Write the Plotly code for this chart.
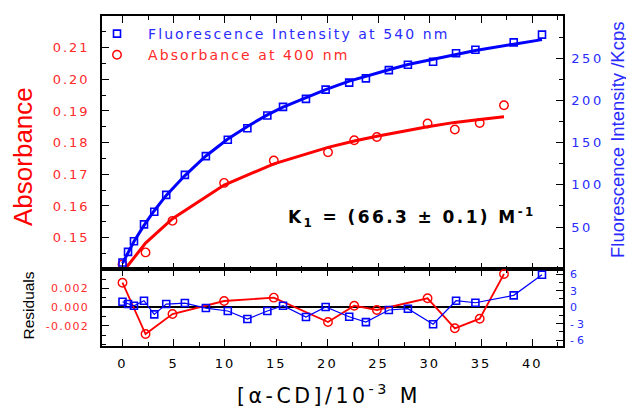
import plotly.graph_objects as go

# ---------------- data ----------------
conc_fl = [0, 0.54, 1.12, 2.1, 3.1, 4.27, 6.09, 8.14, 10.28, 12.19, 14.14, 15.67,
           17.91, 19.83, 22.13, 23.76, 26.0, 27.86, 30.32, 32.56, 34.45, 38.19, 40.95]
fluor = [8.1, 20.6, 33.2, 53.2, 68.1, 88.1, 111.8, 134.0, 153.5, 167.0, 182.2, 192.4,
         201.8, 212.8, 221.1, 226.1, 235.9, 242.2, 245.8, 255.9, 260.0, 268.8, 277.9]
fluor_fit = [7.1, 20.0, 32.9, 52.0, 69.4, 87.5, 111.0, 134.2, 154.2, 169.2, 182.9, 192.1,
             203.6, 212.8, 222.8, 228.8, 236.4, 242.5, 248.9, 254.7, 259.2, 266.6, 272.0]
fluor_res = [1.0, 0.58, 0.27, 1.18, -1.3, 0.58, 0.76, -0.15, -0.69, -2.15, -0.69, 0.27,
             -1.78, 0.04, -1.73, -2.7, -0.5, -0.27, -3.1, 1.18, 0.82, 2.16, 5.9]

conc_abs = [0, 2.25, 4.88, 9.92, 14.77, 20.06, 22.62, 24.83, 29.78, 32.44, 34.87, 37.24]
absorb = [0.14155, 0.14533, 0.1553, 0.16729, 0.17435, 0.17697, 0.18076, 0.1818,
          0.18603, 0.18413, 0.18621, 0.1918]
absorb_fit = [0.1390, 0.1483, 0.1560, 0.1666, 0.1733, 0.1785, 0.1805, 0.1820,
              0.1850, 0.1864, 0.1873, 0.1882]
absorb_res = [0.00262, -0.00287, -0.00073, 0.00066, 0.00102, -0.00158, 0.00016,
              -0.0003, 0.00095, -0.00226, -0.00123, 0.00355]

x_ticks = [0, 5, 10, 15, 20, 25, 30, 35, 40]
abs_ticks = [0.15, 0.16, 0.17, 0.18, 0.19, 0.20, 0.21]
abs_ticklabels = ["0.15", "0.16", "0.17", "0.18", "0.19", "0.20", "0.21"]
fl_ticks = [50, 100, 150, 200, 250]
res_abs_ticks = [-0.002, 0.0, 0.002]
res_abs_ticklabels = ["-0.002", "0.000", "0.002"]
res_fl_ticks = [-6, -3, 0, 3, 6]
res_fl_ticklabels = ["-6", "-3", "0", "3", "6"]

BLUE = "#0000ff"
RED = "#ff0000"
BLUE_T = "#2a2aff"
RED_T = "#ff2a2a"
FONT = "DejaVu Sans"
TITLE_FONT = "Liberation Sans"

# the page body adds an 8 px offset; the figure is sized so the plot lands
# where it sits in the 634x410 reference
OFF = 8
W, H = 634 - OFF, 410 - OFF
L, R, T, B = 102 - OFF, 71, 16 - OFF, 64
PW, PH = W - L - R, H - T - B


def px_x(px):
    return (px - OFF - L) / PW


def px_y(py):
    return (H - B - (py - OFF)) / PH


def ls(s, sp, color=None):
    st = f"letter-spacing:{sp}px"
    if color:
        st = f"color:{color};" + st
    return f'<span style="{st}">{s}</span>'


fig = go.Figure()

# ---- main panel ----
fig.add_trace(go.Scatter(x=conc_fl, y=fluor_fit, mode="lines", yaxis="y2", xaxis="x",
                         line=dict(color=BLUE, width=3), showlegend=False))
fig.add_trace(go.Scatter(x=conc_abs, y=absorb_fit, mode="lines", yaxis="y", xaxis="x",
                         line=dict(color=RED, width=3), showlegend=False))
fig.add_trace(go.Scatter(x=conc_fl, y=fluor, mode="markers", yaxis="y2", xaxis="x",
                         marker=dict(symbol="square-open", size=7, color=BLUE,
                                     line=dict(width=1.6, color=BLUE)),
                         name=ls("Fluorescence Intensity at 540 nm", 2.1, BLUE_T),
                         legendgroup="a", legendrank=1))
fig.add_trace(go.Scatter(x=conc_abs, y=absorb, mode="markers", yaxis="y", xaxis="x",
                         marker=dict(symbol="circle-open", size=8.5, color=RED,
                                     line=dict(width=1.4, color=RED)),
                         name=ls("Absorbance at 400 nm", 2.1, RED_T),
                         legendgroup="b", legendrank=2))

# ---- residual panel ----
fig.add_trace(go.Scatter(x=conc_abs, y=absorb_res, mode="lines+markers", xaxis="x2", yaxis="y3",
                         line=dict(color=RED, width=1.8),
                         marker=dict(symbol="circle-open", size=8.5, color=RED,
                                     line=dict(width=1.4, color=RED)),
                         showlegend=False))
fig.add_trace(go.Scatter(x=conc_fl, y=fluor_res, mode="lines+markers", xaxis="x2", yaxis="y4",
                         line=dict(color=BLUE, width=1.2),
                         marker=dict(symbol="square-open", size=7, color=BLUE,
                                     line=dict(width=1.6, color=BLUE)),
                         showlegend=False))

split = 76.7 / PH
axis_common = dict(showline=True, linecolor="black", linewidth=1.5, showgrid=False,
                   zeroline=False, ticks="inside", tickcolor="black", tickwidth=1.2)

fig.update_layout(
    width=W, height=H,
    margin=dict(l=L, r=R, t=T, b=B, autoexpand=False),
    paper_bgcolor="white", plot_bgcolor="white",
    font=dict(family=FONT, size=13, color="black"),
    xaxis=dict(domain=[0, 1], range=[-2, 43], anchor="y", mirror="ticks",
               tickvals=x_ticks, showticklabels=False, ticklen=7,
               minor=dict(dtick=2.5, tick0=0, ticks="inside", ticklen=4, tickcolor="black"),
               **axis_common),
    yaxis=dict(domain=[split, 1], range=[0.14, 0.22], anchor="x",
               tickvals=abs_ticks, ticktext=[ls(t, 2) for t in abs_ticklabels],
               tickfont=dict(family=FONT, size=13, color=RED_T), ticklen=7,
               ticklabelstandoff=8,
               minor=dict(dtick=0.005, tick0=0.14, ticks="inside", ticklen=4, tickcolor="black"),
               **axis_common),
    yaxis2=dict(domain=[split, 1], range=[0, 300], anchor="x", overlaying="y", side="right",
                tickvals=fl_ticks, ticktext=[ls(str(t), 2.5) for t in fl_ticks],
                tickfont=dict(family=FONT, size=13, color=BLUE_T), ticklen=7,
                ticklabelstandoff=4,
                minor=dict(dtick=25, tick0=0, ticks="inside", ticklen=4, tickcolor="black"),
                **axis_common),
    xaxis2=dict(domain=[0, 1], range=[-2, 43], anchor="y3", mirror="ticks",
                tickvals=x_ticks, ticktext=[ls(str(t), 2) for t in x_ticks],
                tickfont=dict(family=FONT, size=13, color="black"), ticklen=7,
                ticklabelstandoff=5,
                minor=dict(dtick=2.5, tick0=0, ticks="inside", ticklen=4, tickcolor="black"),
                **axis_common),
    yaxis3=dict(domain=[0, split], range=[-0.00415, 0.00405], anchor="x2",
                tickvals=res_abs_ticks, ticktext=[ls(t, 1.3) for t in res_abs_ticklabels],
                tickfont=dict(family=FONT, size=11, color=RED_T), ticklen=7,
                ticklabelstandoff=9,
                minor=dict(dtick=0.001, tick0=0, ticks="inside", ticklen=4, tickcolor="black"),
                showline=True, linecolor="black", linewidth=1.5, showgrid=False,
                zeroline=True, zerolinecolor="black", zerolinewidth=1.5,
                ticks="inside", tickcolor="black", tickwidth=1.2),
    yaxis4=dict(domain=[0, split], range=[-7.05, 6.9], anchor="x2", overlaying="y3", side="right",
                tickvals=res_fl_ticks, ticktext=[ls(t, 3) for t in res_fl_ticklabels],
                tickfont=dict(family=FONT, size=11, color=BLUE_T), ticklen=7,
                ticklabelstandoff=3,
                minor=dict(dtick=1.5, tick0=0, ticks="inside", ticklen=4, tickcolor="black"),
                **axis_common),
    legend=dict(x=px_x(86), xanchor="left", y=px_y(18), yanchor="top",
                bgcolor="rgba(0,0,0,0)", borderwidth=0, itemwidth=52,
                font=dict(family=FONT, size=14), tracegroupgap=10,
                traceorder="normal", itemsizing="trace"),
)

annotations = [
    dict(text="Absorbance", x=px_x(23), y=px_y(157), textangle=-90,
         font=dict(family=TITLE_FONT, size=26, color=RED)),
    dict(text="Fluorescence Intensity /Kcps", x=px_x(617), y=px_y(140),
         textangle=-90, font=dict(family=TITLE_FONT, size=18.5, color=BLUE_T)),
    dict(text="Residuals", x=px_x(27.5), y=px_y(306), textangle=-90,
         font=dict(family=TITLE_FONT, size=15.5, color="black")),
    dict(text=ls("[α-CD]/10<sup>-3</sup> M", 3.5), x=px_x(329), y=px_y(394),
         font=dict(family=FONT, size=20.5, color="black")),
    dict(text=ls("<b>K<sub>1</sub> = (66.3 ± 0.1) M<sup>-1</sup></b>", 2.4),
         x=px_x(286), xanchor="left", y=px_y(217),
         font=dict(family=FONT, size=17, color="black")),
]
for a in annotations:
    a.setdefault("xanchor", "center")
    a.setdefault("yanchor", "middle")
    a.update(xref="paper", yref="paper", showarrow=False)
fig.update_layout(annotations=annotations)

fig.write_html("out.html")
